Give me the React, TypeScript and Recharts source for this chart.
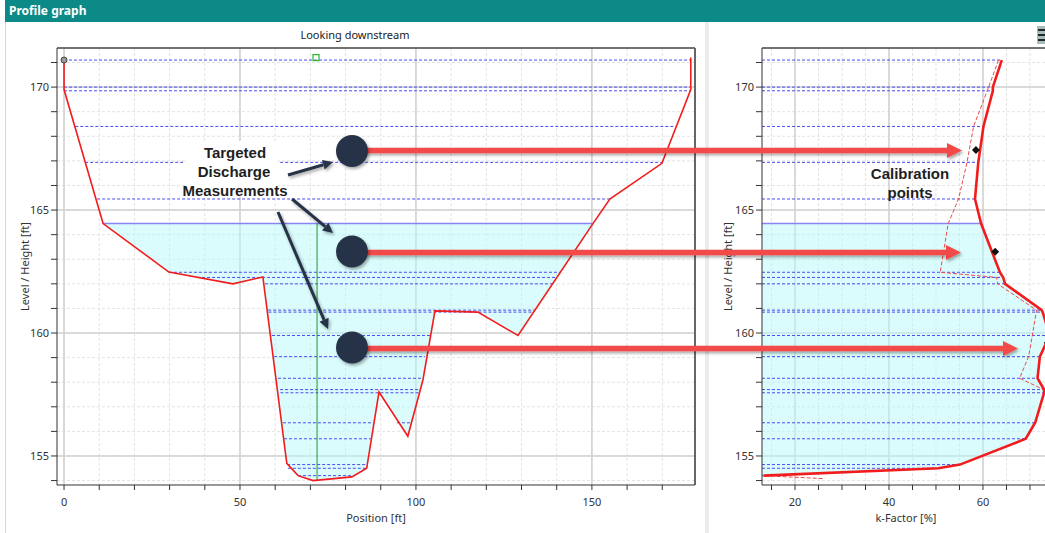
import React from "react";
import { Area, CartesianGrid, ComposedChart, Line, ReferenceDot, ReferenceLine, XAxis, YAxis } from "recharts";

// cross-section profile (position ft, level ft)
const profileX = [0, 0, 11.1, 29.8, 48, 56.5, 63.3, 66.5, 70.8, 81.8, 86, 89.5, 97.7, 102, 105.4, 117.6, 129, 150.3, 155.1, 169.9, 178.1, 178.1];
const profileY = [171.1, 169.9, 164.45, 162.48, 162.0, 162.28, 154.7, 154.2, 154.0, 154.15, 154.5, 157.6, 155.8, 158.1, 160.9, 160.85, 159.9, 164.45, 165.45, 166.9, 169.9, 171.2];

const waterLevel = 164.45;
const waterFrom = 11.1;
const waterTo = 150.3;

// measured levels and where they meet the banks
const levels = [171.1, 170.0, 169.85, 168.4, 166.94, 165.45, 162.47, 162.26, 162.0, 160.93, 160.85, 159.9, 159.04, 158.16, 157.7, 157.57, 156.35, 155.7, 154.65, 154.5, 154.2];
const bankLeft = [0, 0, 0, 3.2, 6.0, 9.4, 29.8, 37.8, 57.1, 58.0, 58.1, 59.1, 59.7, 60.8, 61.4, 61.5, 62.2, 62.5, 63.4, 63.6, 66.5];
const bankRight = [178.1, 178.1, 178.1, 173.8, 169.9, 155.1, 140.9, 140.1, 138.7, 133.8, 133.4, 104.2, 102.6, 102.1, 101.2, 101.0, 87.8, 87.2, 86.1, 85.8, 81.5];
const subChannelLevel = 156.35;
const subChannel = [94.6, 98.3];

const gaugeX = 71.9;
const gaugeBottom = 154.0;
const gaugeMark = { x: 71.6, y: 171.2 };
const startMark = { x: 0, y: 171.1 };

// k-factor profile
const kLevels = [171.1, 170.0, 169.85, 168.4, 166.94, 165.45, 164.45, 162.47, 162.26, 162.0, 160.93, 160.85, 159.9, 159.04, 158.16, 157.7, 157.57, 156.35, 155.7, 154.65, 154.5, 154.2];
const kFactor = [64.0, 62.1, 62.1, 60.1, 59.0, 58.3, 59.6, 63.6, 64.3, 64.7, 72.5, 72.7, 74.2, 72.1, 71.6, 73.0, 73.0, 71.1, 69.1, 55.1, 50.5, 13.3];
const kAltLevels = [171.1, 170.0, 168.4, 166.94, 165.45, 164.45, 162.47, 162.26, 162.0, 160.93, 159.9, 159.04, 158.16, 157.7, 157.57, 156.35, 155.7, 154.65, 154.5, 154.2, 154.08];
const kAlt = [63.3, 61.2, 58.0, 56.6, 54.8, 52.6, 50.9, 62.9, 63.1, 71.4, 70.5, 69.7, 67.8, 72.9, 72.9, 71.1, 69.1, 55.1, 50.5, 13.3, 26.0];
const calLevels = [167.44, 163.3, 159.6];
const calK = [58.5, 62.6, 73.8];

const xTicks = [0, 10, 20, 30, 40, 50, 60, 70, 80, 90, 100, 110, 120, 130, 140, 150, 160, 170];
const yTicks = [154, 155, 156, 157, 158, 159, 160, 161, 162, 163, 164, 165, 166, 167, 168, 169, 170, 171];
const kTicks = [15, 20, 25, 30, 35, 40, 45, 50, 55, 60, 65, 70];
const xMajor = [0, 50, 100, 150];
const yMajor = [155, 160, 165, 170];
const kMajor = [20, 40, 60];

const X_DOMAIN: [number, number] = [-2, 179.3];
const Y_DOMAIN: [number, number] = [153.82, 171.59];
const K_DOMAIN: [number, number] = [12.98, 74.26];

const FONT = "'Noto Sans', 'DejaVu Sans', sans-serif";
const tickStyle = { fontSize: 11, fill: "#333", fontFamily: FONT };
const BLUE = "#4b4bf0";

const profile = profileX.map((x, i) => ({ x, y: profileY[i] }));
const wetBand = profile
  .filter((p) => p.x >= waterFrom && p.x <= waterTo)
  .map((p) => ({ x: p.x, band: [p.y, waterLevel] }));
const levelSegs = [
  ...levels.flatMap((lv, i) => [
    { x: bankLeft[i], y: lv },
    { x: bankRight[i], y: lv },
    { x: bankRight[i], y: null },
  ]),
  { x: subChannel[0], y: subChannelLevel },
  { x: subChannel[1], y: subChannelLevel },
];
const waterSeg = [
  { x: waterFrom, y: waterLevel },
  { x: waterTo, y: waterLevel },
];

const kRows = kLevels.map((level, i) => ({ level, k: kFactor[i] }));
const kAltRows = kAltLevels.map((level, i) => ({ level, k: kAlt[i] }));
const kWet = kRows.filter((r) => r.level <= waterLevel);

const fmtEvery = (step: number) => (v: number) => (v % step === 0 ? String(v) : "");

function Square(props: any) {
  return <rect x={props.cx - 3} y={props.cy - 3} width={6} height={6} fill="none" stroke="#2db52d" strokeWidth={1.2} />;
}
function Diamond(props: any) {
  const { cx, cy } = props;
  return <polygon points={`${cx},${cy - 4} ${cx + 4},${cy} ${cx},${cy + 4} ${cx - 4},${cy}`} fill="#111" />;
}

function ProfileChart() {
  return (
    <ComposedChart width={700} height={533} margin={{ top: 48, right: 5, bottom: 8, left: 10 }}>
      <CartesianGrid horizontalValues={yTicks} verticalValues={xTicks} stroke="#e3e3e3" strokeDasharray="3 2" />
      <CartesianGrid horizontalValues={yMajor} verticalValues={xMajor} stroke="#d0d0d0" strokeWidth={1.5} />
      <XAxis
        type="number"
        dataKey="x"
        domain={X_DOMAIN}
        allowDataOverflow
        ticks={xTicks}
        interval={0}
        tickFormatter={fmtEvery(50)}
        tick={tickStyle}
        tickSize={5}
        tickMargin={8}
        height={40}
        stroke="#333"
        label={{ value: "Position [ft]", position: "insideBottom", offset: 3, style: { fontSize: 11, fill: "#333", fontFamily: FONT } }}
      />
      <YAxis
        type="number"
        domain={Y_DOMAIN}
        allowDataOverflow
        ticks={yTicks}
        interval={0}
        tickFormatter={fmtEvery(5)}
        tick={tickStyle}
        tickSize={6}
        tickMargin={2}
        width={47}
        stroke="#333"
        label={{ value: "Level / Height [ft]", angle: -90, position: "insideLeft", offset: 15, style: { textAnchor: "middle", fontSize: 11, fill: "#333", fontFamily: FONT } }}
      />
      <ReferenceLine y={Y_DOMAIN[1]} stroke="#444" strokeWidth={1.5} />
      <ReferenceLine x={X_DOMAIN[1]} stroke="#666" strokeWidth={2} />
      <Area data={wetBand} dataKey="band" stroke="none" fill="#b5f9f9" fillOpacity={0.5} isAnimationActive={false} />
      <Line data={levelSegs} dataKey="y" stroke={BLUE} strokeWidth={1} strokeDasharray="3 2" dot={false} isAnimationActive={false} />
      <Line data={waterSeg} dataKey="y" stroke="#8585f5" strokeWidth={1.5} dot={false} isAnimationActive={false} />
      <ReferenceLine segment={[{ x: gaugeX, y: gaugeBottom }, { x: gaugeX, y: waterLevel }]} stroke="#1f9a1f" strokeWidth={1} />
      <Line data={profile} dataKey="y" stroke="#f21c1c" strokeWidth={1.6} dot={false} isAnimationActive={false} />
      <ReferenceDot x={startMark.x} y={startMark.y} r={3} fill="#999" stroke="#444" strokeWidth={1} />
      <ReferenceDot x={gaugeMark.x} y={gaugeMark.y} r={3} shape={Square} />
    </ComposedChart>
  );
}

function KFactorChart() {
  return (
    <ComposedChart layout="vertical" width={350} height={533} margin={{ top: 48, right: 8, bottom: 8, left: 8 }}>
      <CartesianGrid horizontalValues={yTicks} verticalValues={kTicks} stroke="#e3e3e3" strokeDasharray="3 2" />
      <CartesianGrid horizontalValues={yMajor} verticalValues={kMajor} stroke="#d0d0d0" strokeWidth={1.5} />
      <XAxis
        type="number"
        domain={K_DOMAIN}
        allowDataOverflow
        ticks={kTicks}
        interval={0}
        tickFormatter={fmtEvery(20)}
        tick={tickStyle}
        tickSize={5}
        tickMargin={8}
        height={40}
        stroke="#333"
        label={{ value: "k-Factor [%]", position: "insideBottom", offset: 3, style: { fontSize: 11, fill: "#333", fontFamily: FONT } }}
      />
      <YAxis
        type="number"
        dataKey="level"
        domain={Y_DOMAIN}
        reversed
        allowDataOverflow
        ticks={yTicks}
        interval={0}
        tickFormatter={fmtEvery(5)}
        tick={tickStyle}
        tickSize={6}
        tickMargin={2}
        width={46}
        stroke="#333"
        label={{ value: "Level / Height [ft]", angle: -90, position: "insideLeft", offset: 12, style: { textAnchor: "middle", fontSize: 11, fill: "#333", fontFamily: FONT } }}
      />
      <ReferenceLine y={Y_DOMAIN[1]} stroke="#444" strokeWidth={1.5} />
      <Area data={kWet} dataKey="k" stroke="none" fill="#b5f9f9" fillOpacity={0.5} isAnimationActive={false} />
      {kRows.map((r) => (
        <ReferenceLine
          key={r.level}
          segment={[{ x: K_DOMAIN[0], y: r.level }, { x: r.k, y: r.level }]}
          stroke={r.level === waterLevel ? "#8585f5" : BLUE}
          strokeWidth={r.level === waterLevel ? 1.5 : 1}
          strokeDasharray={r.level === waterLevel ? undefined : "3 2"}
        />
      ))}
      <Line data={kAltRows} dataKey="k" stroke="#f04848" strokeWidth={1} strokeDasharray="4 2" dot={false} isAnimationActive={false} />
      <Line data={kRows} dataKey="k" stroke="#f21c1c" strokeWidth={2.6} dot={false} isAnimationActive={false} />
      {calLevels.map((lv, i) => (
        <ReferenceDot key={lv} x={calK[i]} y={lv} r={4} shape={Diamond} />
      ))}
    </ComposedChart>
  );
}

function head(x1: number, y1: number, x2: number, y2: number, len: number, half: number) {
  const a = Math.atan2(y2 - y1, x2 - x1);
  const bx = x2 - len * Math.cos(a);
  const by = y2 - len * Math.sin(a);
  const px = -Math.sin(a) * half;
  const py = Math.cos(a) * half;
  return { base: [bx, by], pts: `${x2},${y2} ${bx + px},${by + py} ${bx - px},${by - py}` };
}

// call-out graphics
const bubbles = [
  { x: 352, y: 151, tip: 962, ay: 150.5 },
  { x: 352, y: 251.5, tip: 961, ay: 252.5 },
  { x: 352, y: 347.5, tip: 1018, ay: 348.5 },
];
const pointers = [
  { x1: 288, y1: 175, x2: 333, y2: 162 },
  { x1: 292, y1: 199, x2: 333, y2: 233 },
  { x1: 278, y1: 212, x2: 328, y2: 329 },
];

function Callouts() {
  const navy = "#283347";
  return (
    <svg width={1045} height={533} style={{ position: "absolute", left: 0, top: 0, pointerEvents: "none" }}>
      <defs>
        <filter id="sh" x="-20%" y="-60%" width="140%" height="220%">
          <feDropShadow dx="1.5" dy="2" stdDeviation="1.6" floodColor="#000" floodOpacity="0.35" />
        </filter>
      </defs>
      <rect x={185} y={141} width={93} height={56} fill="#fff" />
      {bubbles.map((b, i) => {
        const h = head(b.x, b.ay, b.tip, b.ay, 15, 7.5);
        return (
          <g key={i} filter="url(#sh)">
            <line x1={b.x} y1={b.ay} x2={h.base[0] + 1} y2={b.ay} stroke="#f24a4a" strokeWidth={5.5} />
            <polygon points={h.pts} fill="#f24a4a" />
          </g>
        );
      })}
      {bubbles.map((b, i) => (
        <circle key={i} cx={b.x} cy={b.y} r={16} fill={navy} filter="url(#sh)" />
      ))}
      {pointers.map((p, i) => {
        const h = head(p.x1, p.y1, p.x2, p.y2, 10, 5);
        return (
          <g key={i} filter="url(#sh)">
            <line x1={p.x1} y1={p.y1} x2={h.base[0]} y2={h.base[1]} stroke={navy} strokeWidth={3} />
            <polygon points={h.pts} fill={navy} />
          </g>
        );
      })}
      <g fontFamily="'Liberation Sans', Arial, sans-serif" fontWeight="bold" fontSize={15} fill="#1e1e1e" textAnchor="middle">
        <text x={235} y={158}>Targeted</text>
        <text x={234} y={177}>Discharge</text>
        <text x={235} y={196}>Measurements</text>
        <text x={910} y={179}>Calibration</text>
        <text x={910} y={198}>points</text>
      </g>
    </svg>
  );
}

export default function App() {
  return (
    <div style={{ position: "absolute", left: 0, top: 0, width: 1045, height: 533, overflow: "hidden", background: "#fff", fontFamily: FONT }}>
      <div style={{ position: "absolute", left: 5, top: 0, right: 0, height: 22, background: "#0b8a87", color: "#fff", fontWeight: "bold", fontSize: 12, lineHeight: "22px", paddingLeft: 4 }}>
        Profile graph
      </div>
      <div style={{ position: "absolute", left: 5, top: 22, width: 1, bottom: 0, background: "#d6d6d6" }} />
      <div style={{ position: "absolute", left: 705, top: 22, width: 4, bottom: 0, background: "#ececec" }} />
      <div style={{ position: "absolute", left: 1037, top: 26, width: 10, height: 18, background: "#a9bcbc" }}>
        {[3, 8, 13].map((t) => (
          <div key={t} style={{ position: "absolute", left: 1, top: t, width: 9, height: 2, background: "#1e2a2a" }} />
        ))}
      </div>
      <div style={{ position: "absolute", left: 5, top: 27, width: 700, textAlign: "center", fontSize: 11, color: "#222" }}>Looking downstream</div>
      <div style={{ position: "absolute", left: 0, top: 0 }}>
        <ProfileChart />
      </div>
      <div style={{ position: "absolute", left: 708, top: 0 }}>
        <KFactorChart />
      </div>
      <Callouts />
    </div>
  );
}
